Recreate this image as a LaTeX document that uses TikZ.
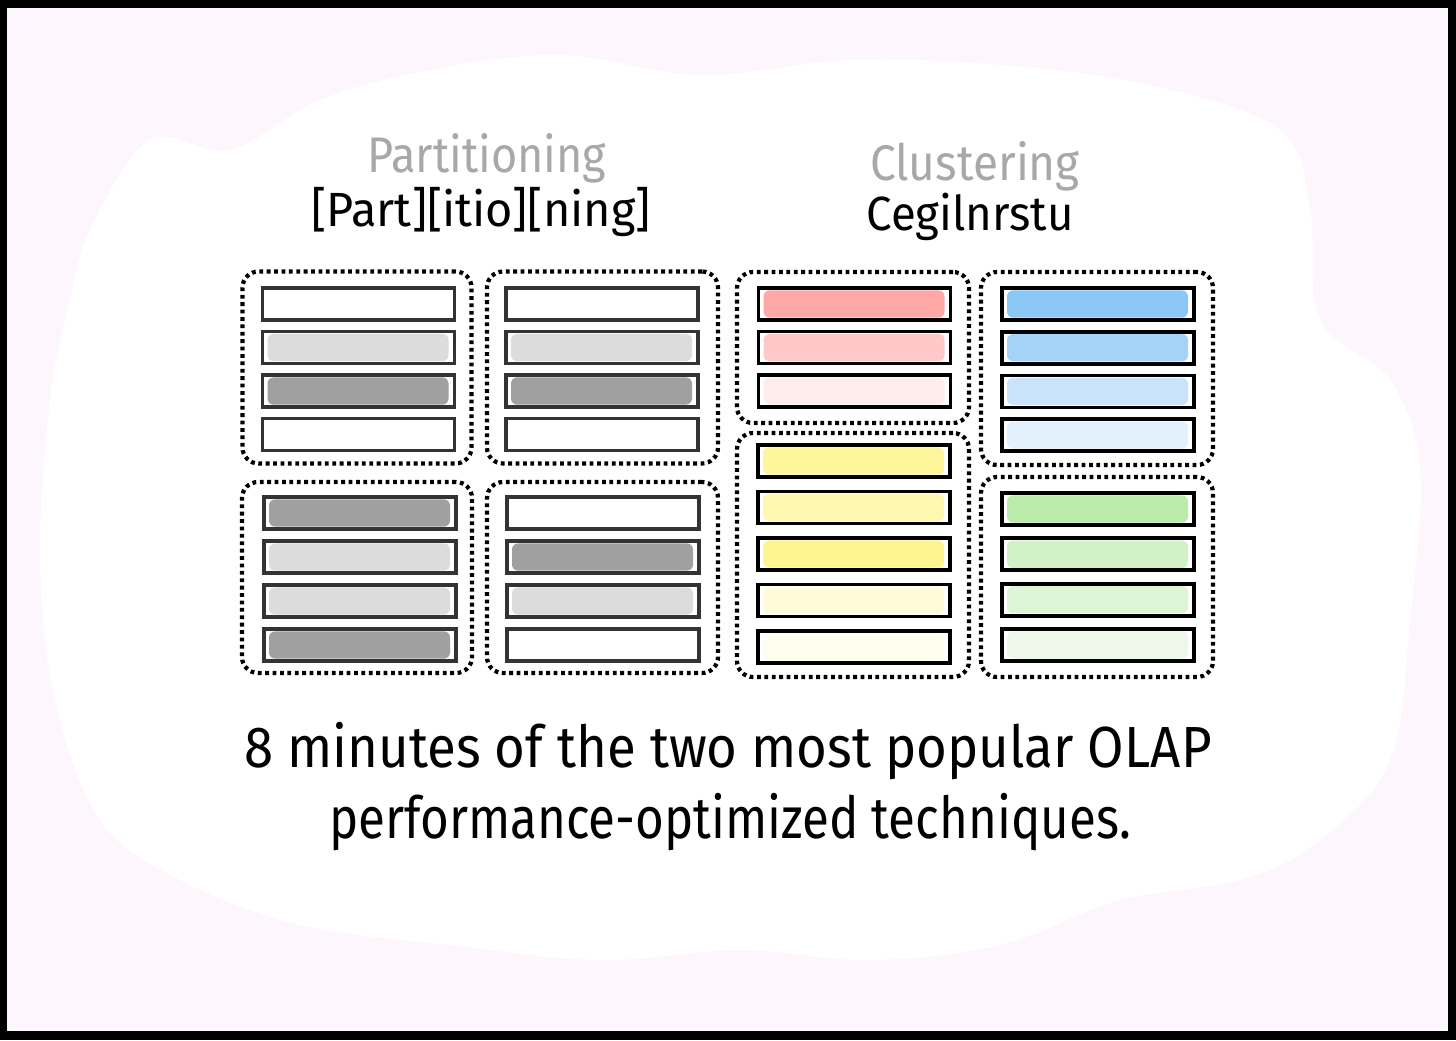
\documentclass[tikz,border=0pt]{standalone}
\usepackage{fontspec}
\setmainfont{Fira Sans}
\usepackage{xcolor}
\usetikzlibrary{arrows.meta}

\definecolor{bgpink}{HTML}{FDF7FD}
\definecolor{tgray}{HTML}{A8A8A8}
\definecolor{glight}{HTML}{DCDCDC}
\definecolor{gdark}{HTML}{A0A0A0}
\definecolor{reda}{HTML}{FFA8A8}
\definecolor{redb}{HTML}{FFC9C9}
\definecolor{redc}{HTML}{FFEDED}
\definecolor{yela}{HTML}{FFF59A}
\definecolor{yelb}{HTML}{FFF8B0}
\definecolor{yelc}{HTML}{FFF590}
\definecolor{yeld}{HTML}{FFFBD8}
\definecolor{yele}{HTML}{FFFDEE}
\definecolor{blua}{HTML}{8CC8F6}
\definecolor{blub}{HTML}{A5D3F8}
\definecolor{bluc}{HTML}{C8E3FA}
\definecolor{blud}{HTML}{E3F1FD}
\definecolor{grna}{HTML}{BBEBA8}
\definecolor{grnb}{HTML}{D1F2C4}
\definecolor{grnc}{HTML}{DEF4D6}
\definecolor{grnd}{HTML}{EEF8EA}

\newcommand{\squeeze}[2]{\scalebox{#1}[1]{#2}}

\tikzset{
  grp/.style={draw, line width=2.1pt, dash pattern=on 1.9pt off 1.8pt, rounded corners=8pt, inner sep=0pt},
  bar/.style={draw=#1, line width=1.9pt, fill=white, minimum width=96pt, minimum height=16pt, inner sep=0pt},
  ink/.style={path picture={\fill[#1, rounded corners=3pt] ([shift={(2.5pt,-1.2pt)}]path picture bounding box.north west) rectangle ([shift={(-3pt,1.2pt)}]path picture bounding box.south east);}},
  title/.style={anchor=base, text=tgray, font=\fontsize{25}{30}\selectfont},
  sub/.style={anchor=base, font=\fontsize{24}{30}\selectfont},
  caption/.style={anchor=base, font=\fontsize{29}{35}\selectfont}
}

\begin{document}
\begin{tikzpicture}[x=0.5pt,y=-0.5pt,>=Stealth]
  \fill[black] (0,0) rectangle (1456,1040);
  \fill[bgpink] (7,8) rectangle (1448,1031);
  \fill[white] plot[smooth cycle, tension=0.6] coordinates {(90,230) (150,140) (230,150) (320,100) (430,70) (560,55) (700,75) (850,60) (1000,65) (1150,85) (1280,130) (1310,210) (1320,320) (1390,380) (1420,470) (1410,620) (1390,760) (1320,840) (1240,880) (1120,900) (1000,945) (870,960) (740,950) (600,960) (450,945) (300,925) (180,880) (100,820) (55,700) (40,560) (50,400) (70,300)};

  \node[title] (ptitle) at (487,172) {\squeeze{0.90}{Partitioning}};
  \node[sub] (pkey) at (481,226) {\squeeze{0.975}{[Part][itio][ning]}};
  \node[title] (ctitle) at (975,180) {\squeeze{0.92}{Clustering}};
  \node[sub] (ckey) at (970,230) {\squeeze{0.95}{Cegilnrstu}};

  \node[grp, minimum width=114.5pt, minimum height=96pt] (grpa) at (357,367.5) {};
  \node[grp, minimum width=115.5pt, minimum height=96pt] (grpb) at (602.5,367.5) {};
  \node[grp, minimum width=115pt, minimum height=95.5pt] (grpc) at (357,577.5) {};
  \node[grp, minimum width=115.5pt, minimum height=95.5pt] (grpd) at (602.5,577.5) {};
  \node[grp, minimum width=116pt, minimum height=75.5pt] (grpe) at (853,347.5) {};
  \node[grp, minimum width=116pt, minimum height=122pt] (grpf) at (853,555) {};
  \node[grp, minimum width=116pt, minimum height=96.5pt] (grpg) at (1097,368.5) {};
  \node[grp, minimum width=116pt, minimum height=100pt] (grph) at (1097,577) {};

  \foreach \c [count=\k] in {white,glight,gdark,white}
    \node[bar=black!80, ink=\c] (pa\k) at (358.5,{260.5+43.5*\k}) {};
  \foreach \c [count=\k] in {white,glight,gdark,white}
    \node[bar=black!80, ink=\c] (pb\k) at (602,{260.5+43.5*\k}) {};
  \foreach \c [count=\k] in {gdark,glight,glight,gdark}
    \node[bar=black!80, ink=\c] (pc\k) at (360,{469+44*\k}) {};
  \foreach \c [count=\k] in {white,gdark,glight,white}
    \node[bar=black!80, ink=\c] (pd\k) at (603,{469+44*\k}) {};

  \foreach \c [count=\k] in {reda,redb,redc}
    \node[bar=black, ink=\c] (ca\k) at (854.5,{260.5+43.5*\k}) {};
  \foreach \c [count=\k] in {yela,yelb,yelc,yeld,yele}
    \node[bar=black, ink=\c] (cb\k) at (854,{414.5+46.5*\k}) {};
  \foreach \c [count=\k] in {blua,blub,bluc,blud}
    \node[bar=black, ink=\c] (cc\k) at (1098,{260.3+43.7*\k}) {};
  \foreach \c [count=\k] in {grna,grnb,grnc,grnd}
    \node[bar=black, ink=\c] (cd\k) at (1098,{463.7+45.3*\k}) {};

  \node[caption] (line1) at (728,767) {\squeeze{0.91}{8 minutes of the two most popular OLAP}};
  \node[caption] (line2) at (730,838) {\squeeze{0.85}{performance-optimized techniques.}};
\end{tikzpicture}
\end{document}
